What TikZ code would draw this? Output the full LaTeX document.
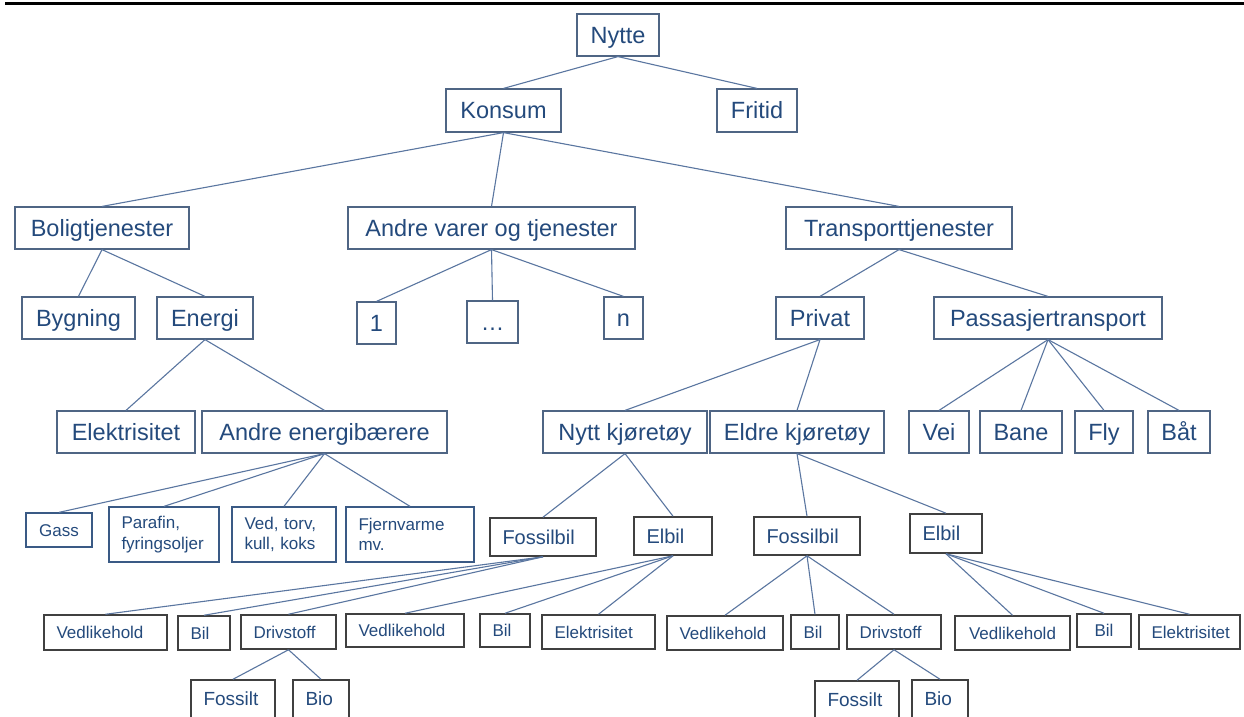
\documentclass[tikz,border=0pt]{standalone}
\usepackage{fontspec}
\setmainfont{Liberation Sans}
\definecolor{txt}{HTML}{244A7C}
\definecolor{bord}{HTML}{4F6584}
\definecolor{bordb}{HTML}{3A5A85}
\definecolor{bordd}{HTML}{404040}
\definecolor{lnc}{HTML}{5A76A0}
\newcommand\bx[7]{%
  \pgfmathsetmacro\bxw{#4-#2}\pgfmathsetmacro\bxh{#5-#3}%
  \pgfmathsetmacro\bxx{(#2+#4)/2}\pgfmathsetmacro\bxy{(#3+#5)/2}%
  \pgfmathsetmacro\bxt{#4-#2-25}%
  \node[#6, minimum width=\bxw pt, minimum height=\bxh pt] (#1) at (\bxx,\bxy) {#7};}
\begin{document}
\begin{tikzpicture}[x=1pt,y=-1pt,
  big/.style={draw=bord, line width=1.2pt, inner sep=0pt, text=txt,
    font=\fontsize{23.5}{28}\selectfont, text height=16.8pt, text depth=0pt},
  ens/.style={draw=bordb, line width=1.3pt, inner sep=0pt, text=txt,
    font=\fontsize{17}{20.5}\selectfont, text height=12.2pt, text depth=0pt},
  enm/.style={draw=bordb, line width=1.3pt, inner ysep=0pt, text=txt,
    font=\fontsize{17}{20.5}\selectfont, align=left, text width=\bxt pt, inner xsep=12.5pt},
  veh/.style={draw=bordd, line width=1.6pt, inner ysep=0pt, text=txt,
    font=\fontsize{20}{24}\selectfont, text height=14.3pt, text depth=0pt,
    align=left, text width=\bxt pt, inner xsep=12.5pt},
  leaf/.style={draw=bordd, line width=1.5pt, inner sep=0pt, text=txt,
    font=\fontsize{17}{20}\selectfont, text height=12.2pt, text depth=0pt},
  leafb/.style={draw=bordd, line width=1.5pt, inner sep=0pt, text=txt,
    font=\fontsize{19}{22}\selectfont, text height=13.6pt, text depth=0pt},
  lft/.style={align=left, text width=\bxt pt, inner xsep=12.5pt},
  wire/.style={draw=lnc, line width=1.1pt}]
\useasboundingbox (0,0) rectangle (1244,716);
\clip (0,0) rectangle (1244,716);
\fill[white] (0,0) rectangle (1244,716);
\draw[line width=3pt, black] (5,3.5) -- (1244,3.5);

\bx{nytte}{577}{14}{659}{56}{big}{Nytte}
\bx{konsum}{446}{89}{561}{132}{big}{Konsum}
\bx{fritid}{717}{89}{797}{132}{big}{Fritid}
\bx{bolig}{15}{207}{189}{249}{big}{Boligtjenester}
\bx{andre}{348}{207}{635}{249}{big}{Andre varer og tjenester}
\bx{transp}{786}{207}{1012}{249}{big}{Transporttjenester}
\bx{bygning}{22}{297}{135}{339}{big}{Bygning}
\bx{energi}{157}{297}{253}{339}{big}{Energi}
\bx{one}{357}{302}{396}{344}{big}{1}
\bx{dots}{467}{301}{518}{343}{big}{…}
\bx{nn}{604}{297}{643}{339}{big}{n}
\bx{privat}{776}{297}{864}{339}{big}{Privat}
\bx{pass}{934}{297}{1162}{339}{big}{Passasjertransport}
\bx{elek}{57}{411}{195}{453}{big}{Elektrisitet}
\bx{andreE}{202}{411}{447}{453}{big}{Andre energibærere}
\bx{nytt}{543}{411}{707}{453}{big}{Nytt kjøretøy}
\bx{eldre}{710}{411}{884}{453}{big}{Eldre kjøretøy}
\bx{vei}{909}{411}{969}{453}{big}{Vei}
\bx{bane}{980}{411}{1062}{453}{big}{Bane}
\bx{fly}{1075}{411}{1133}{453}{big}{Fly}
\bx{bat}{1148}{411}{1210}{453}{big}{Båt}
\bx{gass}{26}{513}{92}{547}{ens}{Gass}
\bx{parafin}{109}{507}{219}{562}{enm}{Parafin,\\fyringsoljer}
\bx{ved}{232}{507}{336}{562}{enm}{Ved, torv,\\kull, koks}
\bx{fjern}{346}{507}{474}{562}{enm}{Fjernvarme\\mv.}
\bx{fos1}{490}{518}{596}{556}{veh}{Fossilbil}
\bx{el1}{634}{517}{712}{555}{veh}{Elbil}
\bx{fos2}{754}{517}{860}{555}{veh}{Fossilbil}
\bx{el2}{910}{514}{982}{553}{veh}{Elbil}
\bx{ved1}{44}{615}{167}{650}{leaf,lft}{Vedlikehold}
\bx{bil1}{178}{616}{230}{650}{leaf,lft}{Bil}
\bx{driv1}{241}{615}{336}{649}{leaf,lft}{Drivstoff}
\bx{ved2}{346}{614}{464}{647}{leaf,lft}{Vedlikehold}
\bx{bil2}{480}{614}{530}{647}{leaf,lft}{Bil}
\bx{elek2}{542}{615}{655}{649}{leaf,lft}{Elektrisitet}
\bx{ved3}{667}{616}{783}{650}{leaf,lft}{Vedlikehold}
\bx{bil3}{791}{615}{839}{649}{leaf,lft}{Bil}
\bx{driv3}{847}{615}{941}{649}{leaf,lft}{Drivstoff}
\bx{ved4}{955}{616}{1070}{650}{leaf}{Vedlikehold}
\bx{bil4}{1077}{614}{1131}{647}{leaf}{Bil}
\bx{elek4}{1139}{615}{1240}{649}{leaf,lft}{Elektrisitet}
\bx{fossilt1}{191}{680}{275}{718}{leafb,lft}{Fossilt}
\bx{bio1}{293}{680}{349}{718}{leafb,lft}{Bio}
\bx{fossilt3}{815}{681}{899}{719}{leafb,lft}{Fossilt}
\bx{bio3}{912}{680}{968}{718}{leafb,lft}{Bio}

\foreach \p/\c in {nytte/konsum, nytte/fritid,
  konsum/bolig, konsum/andre, konsum/transp,
  bolig/bygning, bolig/energi,
  andre/one, andre/dots, andre/nn,
  transp/privat, transp/pass,
  energi/elek, energi/andreE,
  privat/nytt, privat/eldre,
  pass/vei, pass/bane, pass/fly, pass/bat,
  andreE/gass, andreE/parafin, andreE/ved, andreE/fjern,
  nytt/fos1, nytt/el1, eldre/fos2, eldre/el2,
  fos1/ved1, fos1/bil1, fos1/driv1,
  el1/ved2, el1/bil2, el1/elek2,
  fos2/ved3, fos2/bil3, fos2/driv3,
  el2/ved4, el2/bil4, el2/elek4,
  driv1/fossilt1, driv1/bio1, driv3/fossilt3, driv3/bio3}
  \draw[wire] (\p.south) -- (\c.north);
\end{tikzpicture}
\end{document}
